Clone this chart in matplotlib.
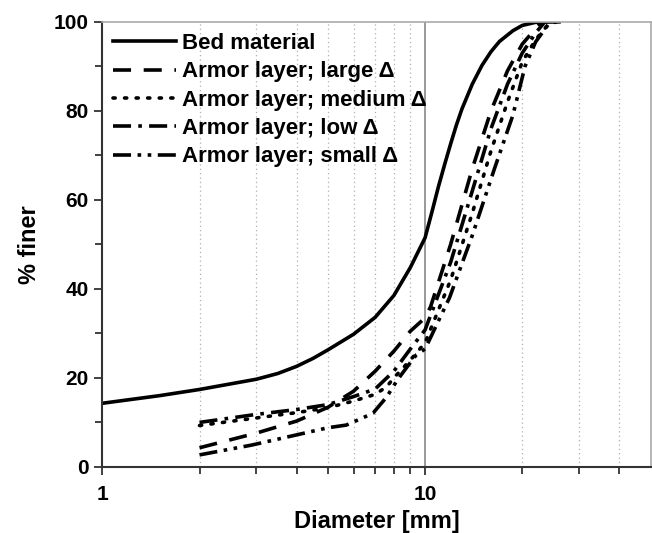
import numpy as np
import matplotlib.pyplot as plt
from matplotlib.ticker import FixedLocator, NullFormatter

plt.rcParams['font.family'] = ['Liberation Sans', 'DejaVu Sans']
plt.rcParams['font.weight'] = 'bold'

# Grain size distributions (diameter in mm, percent finer)
bed_d = [1, 1.5, 2, 3, 3.5, 4, 4.5, 5, 6, 7, 8, 9, 10, 10.5, 11, 11.5, 12, 12.5, 13, 14, 15, 16, 17, 18.7, 20, 22, 26]
bed_p = [14.3, 16.0, 17.4, 19.7, 21.0, 22.6, 24.4, 26.3, 29.8, 33.6, 38.5, 44.8, 51.5, 57.3, 63.0, 68.0, 72.6, 76.8, 80.4, 86.0, 90.2, 93.3, 95.6, 98.0, 99.2, 99.9, 100]

large_d = [2, 3, 4, 5, 6, 7, 8, 9, 10, 10.4, 12, 14, 16, 18, 20, 22, 23]
large_p = [4.3, 7.6, 10.3, 13.4, 17.0, 21.5, 26.0, 30.5, 33.5, 36.0, 50.0, 67.0, 80.0, 89.0, 95.0, 98.5, 100]

medium_d = [2, 3, 4, 5, 6, 7, 7.6, 8, 9, 10, 12, 14, 16, 18, 20, 22, 24, 25.5]
medium_p = [9.3, 11.0, 12.2, 13.3, 14.8, 16.3, 18.0, 20.0, 24.0, 27.9, 42.0, 57.0, 71.0, 82.0, 91.0, 96.0, 99.3, 100]

low_d = [2, 3, 4, 5, 6, 7, 8, 9, 10, 12, 14, 16, 18, 20, 22, 23.5]
low_p = [10.0, 11.8, 12.9, 14.0, 15.8, 17.5, 21.5, 26.5, 30.8, 46.0, 62.0, 76.0, 86.0, 93.0, 97.5, 100]

small_d = [2, 2.9, 4, 5, 5.7, 6.4, 6.9, 7.6, 8.2, 8.8, 9.4, 10, 11.9, 14, 16.4, 18.7, 20.4, 22, 24.4]
small_p = [2.7, 4.9, 7.2, 8.8, 9.4, 11.0, 12.1, 15.7, 19.5, 22.5, 25.2, 26.5, 38.0, 52.0, 67.0, 79.0, 90.0, 95.5, 100]

fig = plt.figure(figsize=(6.52, 5.33), dpi=100)
ax = fig.add_axes([0.157, 0.124, 0.841, 0.835])

lw = 2.6
ax.plot(bed_d, bed_p, color='black', lw=lw, ls='-', label='Bed material')
ax.plot(large_d, large_p, color='black', lw=lw, ls=(0, (5, 3.5)), label='Armor layer; large Δ')
ax.plot(medium_d, medium_p, color='black', lw=lw, ls=(0, (0.6, 2.6)), dash_capstyle='round',
        label='Armor layer; medium Δ')
ax.plot(low_d, low_p, color='black', lw=lw, ls=(0, (5, 2, 1, 2)), label='Armor layer; low Δ')
ax.plot(small_d, small_p, color='black', lw=lw, ls=(0, (5, 1.8, 1, 1.8, 1, 1.8)),
        label='Armor layer; small Δ')

ax.set_xscale('log')
ax.set_xlim(1, 50)
ax.set_ylim(0, 100)

# reference lines at the minor decades
minor = [2, 3, 4, 5, 6, 7, 8, 9, 20, 30, 40]
for v in minor:
    ax.axvline(v, color='#b0b0b0', lw=0.9, ls=(0, (1, 2.5)), zorder=0)
ax.axvline(10, color='#888888', lw=1.2, zorder=0)

ax.xaxis.set_major_locator(FixedLocator([1, 10]))
ax.xaxis.set_minor_locator(FixedLocator(minor))
ax.xaxis.set_minor_formatter(NullFormatter())
ax.set_xticklabels(['1', '10'])
ax.set_yticks([0, 20, 40, 60, 80, 100])
ax.yaxis.set_minor_locator(FixedLocator([10, 30, 50, 70, 90]))

ax.tick_params(which='both', direction='out', width=1.3, color='#333333', labelsize=15)
ax.tick_params(which='major', length=6, pad=4)
ax.tick_params(which='minor', length=5)
ax.tick_params(axis='x', which='major', pad=7)

for s in ['left', 'bottom']:
    ax.spines[s].set_color('#333333')
    ax.spines[s].set_linewidth(1.5)
for s in ['top', 'right']:
    ax.spines[s].set_color('#aaaaaa')
    ax.spines[s].set_linewidth(1.2)

ax.set_xlabel('Diameter [mm]', fontsize=17, fontweight='bold', labelpad=4)
ax.set_ylabel('% finer', fontsize=17, fontweight='bold', labelpad=9)

leg = ax.legend(loc='upper left', frameon=False, fontsize=16, handlelength=2.8,
                handletextpad=0.28, labelspacing=0.33, borderaxespad=0.1,
                bbox_to_anchor=(0.0, 1.0))

fig.savefig('out.png', dpi=100)
